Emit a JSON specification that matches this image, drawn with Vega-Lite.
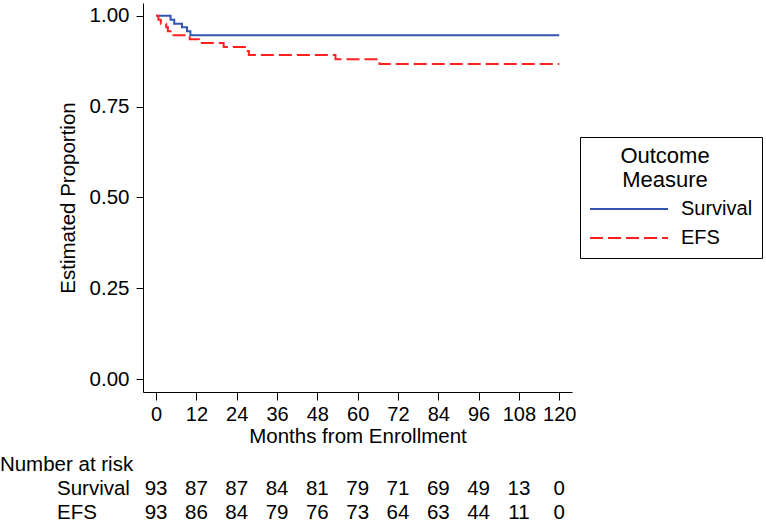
{
  "$schema": "https://vega.github.io/schema/vega-lite/v6.json",
  "width": 429,
  "height": 389,
  "autosize": {"type": "none"},
  "padding": {"left": 143, "top": 3, "right": 194, "bottom": 130},
  "background": "white",
  "config": {
    "font": "Liberation Sans",
    "view": {"stroke": null},
    "axis": {"grid": false, "domainColor": "black", "tickColor": "black", "labelColor": "black", "titleColor": "black", "titleFontWeight": "normal", "domainWidth": 1, "tickWidth": 1},
    "legend": {
      "orient": "none", "legendX": 437, "legendY": 134,
      "strokeColor": "black", "padding": 9, "fillColor": "white",
      "symbolType": "stroke", "symbolSize": 6084, "symbolStrokeWidth": 2,
      "clipHeight": 22, "rowPadding": 7, "labelOffset": 12,
      "labelFontSize": 20, "labelColor": "black",
      "titleFontSize": 22, "titleFontWeight": "normal", "titleColor": "black",
      "titleAnchor": "middle", "titleAlign": "center", "titleLineHeight": 24, "titlePadding": 6
    }
  },
  "datasets": {
    "km": [
      {"series": "Survival", "month": 0, "prop": 1.0},
      {"series": "Survival", "month": 4.3, "prop": 0.989},
      {"series": "Survival", "month": 5.4, "prop": 0.978},
      {"series": "Survival", "month": 7.7, "prop": 0.968},
      {"series": "Survival", "month": 9.2, "prop": 0.957},
      {"series": "Survival", "month": 10.2, "prop": 0.946},
      {"series": "Survival", "month": 120, "prop": 0.946},
      {"series": "EFS", "month": 0, "prop": 1.0},
      {"series": "EFS", "month": 0.7, "prop": 0.989},
      {"series": "EFS", "month": 1.4, "prop": 0.978},
      {"series": "EFS", "month": 3.0, "prop": 0.968},
      {"series": "EFS", "month": 3.5, "prop": 0.957},
      {"series": "EFS", "month": 4.3, "prop": 0.946},
      {"series": "EFS", "month": 10.0, "prop": 0.935},
      {"series": "EFS", "month": 12.8, "prop": 0.925},
      {"series": "EFS", "month": 20.1, "prop": 0.914},
      {"series": "EFS", "month": 27.0, "prop": 0.903},
      {"series": "EFS", "month": 27.6, "prop": 0.892},
      {"series": "EFS", "month": 53.4, "prop": 0.880},
      {"series": "EFS", "month": 66.5, "prop": 0.867},
      {"series": "EFS", "month": 120, "prop": 0.867}
    ],
    "risk": [
      {"series": "Survival", "month": 0, "n": 93},
      {"series": "Survival", "month": 12, "n": 87},
      {"series": "Survival", "month": 24, "n": 87},
      {"series": "Survival", "month": 36, "n": 84},
      {"series": "Survival", "month": 48, "n": 81},
      {"series": "Survival", "month": 60, "n": 79},
      {"series": "Survival", "month": 72, "n": 71},
      {"series": "Survival", "month": 84, "n": 69},
      {"series": "Survival", "month": 96, "n": 49},
      {"series": "Survival", "month": 108, "n": 13},
      {"series": "Survival", "month": 120, "n": 0},
      {"series": "EFS", "month": 0, "n": 93},
      {"series": "EFS", "month": 12, "n": 86},
      {"series": "EFS", "month": 24, "n": 84},
      {"series": "EFS", "month": 36, "n": 79},
      {"series": "EFS", "month": 48, "n": 76},
      {"series": "EFS", "month": 60, "n": 73},
      {"series": "EFS", "month": 72, "n": 64},
      {"series": "EFS", "month": 84, "n": 63},
      {"series": "EFS", "month": 96, "n": 44},
      {"series": "EFS", "month": 108, "n": 11},
      {"series": "EFS", "month": 120, "n": 0}
    ]
  },
  "layer": [
    {
      "data": {"name": "km"},
      "mark": {"type": "line", "interpolate": "step-after", "strokeWidth": 2},
      "encoding": {
        "x": {"field": "month", "type": "quantitative", "title": "Months from Enrollment",
              "scale": {"domain": [-3.9, 123.8], "nice": false, "zero": false},
              "axis": {"values": [0, 12, 24, 36, 48, 60, 72, 84, 96, 108, 120], "labelFontSize": 20, "tickSize": 8, "labelPadding": 4, "titleFontSize": 20.5, "titlePadding": 2, "labelFlush": false}},
        "y": {"field": "prop", "type": "quantitative", "title": "Estimated Proportion",
              "scale": {"domain": [-0.035, 1.035], "nice": false, "zero": false},
              "axis": {"values": [0, 0.25, 0.5, 0.75, 1], "format": ".2f", "labelFontSize": 20.5, "tickSize": 7, "labelPadding": 7, "titleFontSize": 20.5, "titlePadding": 11, "labelFlush": false}},
        "color": {"field": "series", "type": "nominal", "title": ["Outcome", "Measure"],
                  "scale": {"domain": ["Survival", "EFS"], "range": ["#3355b0", "#ff2020"]},
                  "legend": {"encode": {"title": {"update": {"dx": {"value": -6}}}}}},
        "strokeDash": {"field": "series", "type": "nominal", "title": ["Outcome", "Measure"],
                       "scale": {"domain": ["Survival", "EFS"], "range": [[1, 0], [13, 5]]},
                       "legend": {"encode": {"title": {"update": {"dx": {"value": -6}}}}}}
      }
    },
    {
      "data": {"name": "risk"},
      "transform": [{"filter": "datum.series === 'Survival'"}],
      "mark": {"type": "text", "fontSize": 20.5, "align": "center", "baseline": "middle", "color": "black"},
      "encoding": {
        "x": {"field": "month", "type": "quantitative", "title": "Months from Enrollment"},
        "y": {"datum": -0.303, "type": "quantitative", "title": "Estimated Proportion"},
        "text": {"field": "n", "type": "quantitative"}
      }
    },
    {
      "data": {"name": "risk"},
      "transform": [{"filter": "datum.series === 'EFS'"}],
      "mark": {"type": "text", "fontSize": 20.5, "align": "center", "baseline": "middle", "color": "black"},
      "encoding": {
        "x": {"field": "month", "type": "quantitative", "title": "Months from Enrollment"},
        "y": {"datum": -0.367, "type": "quantitative", "title": "Estimated Proportion"},
        "text": {"field": "n", "type": "quantitative"}
      }
    },
    {
      "data": {"values": [{"label": "Number at risk"}]},
      "mark": {"type": "text", "fontSize": 20.5, "align": "left", "baseline": "middle", "color": "black"},
      "encoding": {
        "x": {"datum": -46.5, "type": "quantitative", "title": "Months from Enrollment"},
        "y": {"datum": -0.237, "type": "quantitative", "title": "Estimated Proportion"},
        "text": {"field": "label", "type": "nominal"}
      }
    },
    {
      "data": {"values": [{"label": "Survival"}]},
      "mark": {"type": "text", "fontSize": 20.5, "align": "left", "baseline": "middle", "color": "black"},
      "encoding": {
        "x": {"datum": -29.5, "type": "quantitative", "title": "Months from Enrollment"},
        "y": {"datum": -0.303, "type": "quantitative", "title": "Estimated Proportion"},
        "text": {"field": "label", "type": "nominal"}
      }
    },
    {
      "data": {"values": [{"label": "EFS"}]},
      "mark": {"type": "text", "fontSize": 20.5, "align": "left", "baseline": "middle", "color": "black"},
      "encoding": {
        "x": {"datum": -29.5, "type": "quantitative", "title": "Months from Enrollment"},
        "y": {"datum": -0.367, "type": "quantitative", "title": "Estimated Proportion"},
        "text": {"field": "label", "type": "nominal"}
      }
    }
  ]
}
